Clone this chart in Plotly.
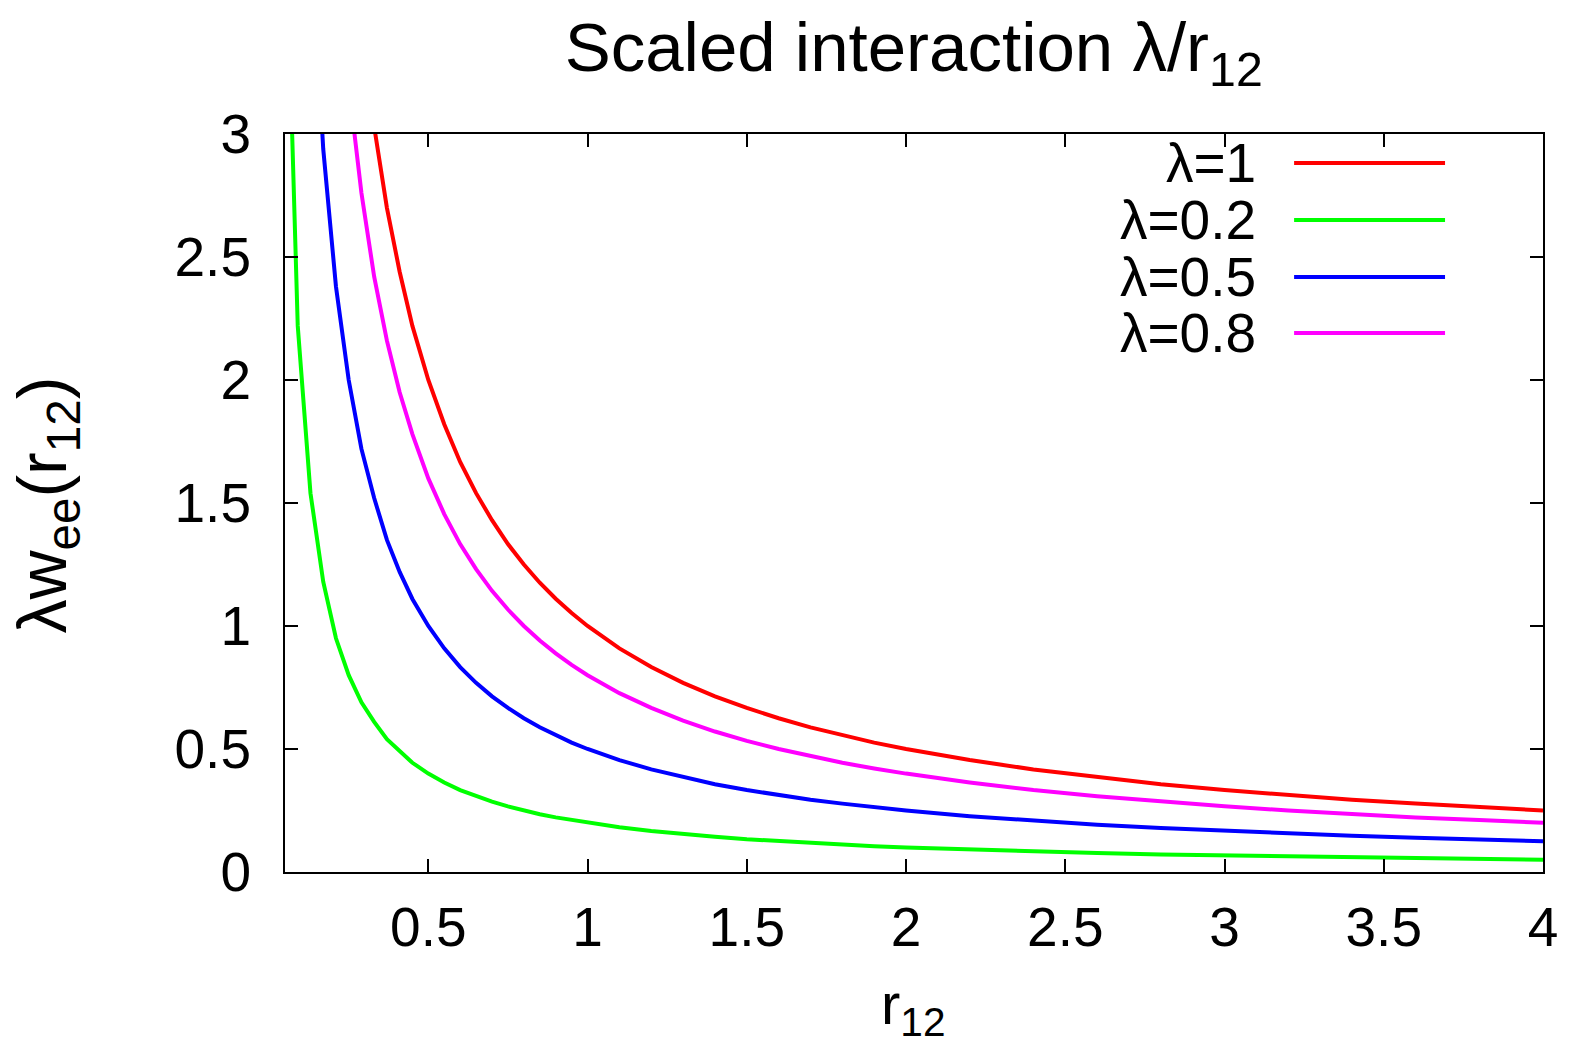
import plotly.graph_objects as go

# Sampled separations r12 and the scaled interaction for each coupling strength
r12 = [0.05, 0.09, 0.13, 0.17, 0.21, 0.25, 0.29, 0.33, 0.37, 0.41, 0.45,
       0.50, 0.55, 0.60, 0.65, 0.70, 0.75, 0.80, 0.85, 0.90, 0.95, 1.00,
       1.10, 1.20, 1.30, 1.40, 1.50, 1.60, 1.70, 1.80, 1.90, 2.00,
       2.20, 2.40, 2.60, 2.80, 3.00, 3.20, 3.40, 3.60, 3.80, 4.00]

w_lam_1_0 = [20.0, 11.11, 7.69, 5.88, 4.76, 4.00, 3.45, 3.03, 2.70, 2.44, 2.22,
             2.00, 1.82, 1.667, 1.54, 1.43, 1.333, 1.25, 1.176, 1.111, 1.053, 1.00,
             0.909, 0.833, 0.769, 0.714, 0.667, 0.625, 0.588, 0.556, 0.526, 0.50,
             0.455, 0.417, 0.385, 0.357, 0.333, 0.3125, 0.294, 0.278, 0.263, 0.25]
w_lam_0_2 = [4.00, 2.22, 1.54, 1.18, 0.95, 0.80, 0.69, 0.61, 0.54, 0.49, 0.444,
             0.40, 0.364, 0.333, 0.308, 0.286, 0.267, 0.25, 0.235, 0.222, 0.211, 0.20,
             0.182, 0.167, 0.154, 0.143, 0.133, 0.125, 0.118, 0.111, 0.105, 0.10,
             0.091, 0.083, 0.077, 0.071, 0.067, 0.0625, 0.059, 0.056, 0.053, 0.05]
w_lam_0_5 = [10.0, 5.56, 3.85, 2.94, 2.38, 2.00, 1.72, 1.52, 1.35, 1.22, 1.11,
             1.00, 0.909, 0.833, 0.769, 0.714, 0.667, 0.625, 0.588, 0.556, 0.526, 0.50,
             0.455, 0.417, 0.385, 0.357, 0.333, 0.3125, 0.294, 0.278, 0.263, 0.25,
             0.227, 0.208, 0.192, 0.179, 0.167, 0.156, 0.147, 0.139, 0.132, 0.125]
w_lam_0_8 = [16.0, 8.89, 6.15, 4.71, 3.81, 3.20, 2.76, 2.42, 2.16, 1.95, 1.78,
             1.60, 1.455, 1.333, 1.231, 1.143, 1.067, 1.00, 0.941, 0.889, 0.842, 0.80,
             0.727, 0.667, 0.615, 0.571, 0.533, 0.50, 0.471, 0.444, 0.421, 0.40,
             0.364, 0.333, 0.308, 0.286, 0.267, 0.25, 0.235, 0.222, 0.211, 0.20]

series_names = ["λ=1", "λ=0.2", "λ=0.5", "λ=0.8"]
series_values = [w_lam_1_0, w_lam_0_2, w_lam_0_5, w_lam_0_8]
series_colors = ["#ff0000", "#00ff00", "#0000ff", "#ff00ff"]

x_ticks = [0.5, 1, 1.5, 2, 2.5, 3, 3.5, 4]
x_tick_labels = ["0.5", "1", "1.5", "2", "2.5", "3", "3.5", "4"]
y_ticks = [0, 0.5, 1, 1.5, 2, 2.5, 3]
y_tick_labels = ["0", "0.5", "1", "1.5", "2", "2.5", "3"]

W, H = 1569, 1049
L, R, T, B = 284.5, 26, 134, 177
plot_w = W - L - R
plot_h = H - T - B

FONT = "Liberation Sans, Arial, Helvetica, sans-serif"

fig = go.Figure()
for name, vals, col in zip(series_names, series_values, series_colors):
    fig.add_trace(go.Scatter(x=r12, y=vals, mode="lines", name=name,
                             line=dict(color=col, width=4), showlegend=False))

# Key in the upper right: label right-aligned, then a sample line
def px_to_paper(px, py):
    return (px - L) / plot_w, (H - B - py) / plot_h

key_rows = [163, 220, 277, 333]
for name, col, py in zip(series_names, series_colors, key_rows):
    tx, ty = px_to_paper(1258, py)
    fig.add_annotation(x=tx, y=ty, xref="paper", yref="paper", text=name,
                       showarrow=False, xanchor="right", yanchor="middle",
                       font=dict(family=FONT, size=55, color="black"))
    x0, y0 = px_to_paper(1294, py)
    x1, _ = px_to_paper(1445, py)
    fig.add_shape(type="line", xref="paper", yref="paper", x0=x0, x1=x1, y0=y0, y1=y0,
                  line=dict(color=col, width=4))

# Axis titles
ax, ay = px_to_paper(913, 1008)
fig.add_annotation(x=ax, y=ay, xref="paper", yref="paper", text="r<sub>12</sub>",
                   showarrow=False, xanchor="center", yanchor="middle",
                   font=dict(family=FONT, size=58, color="black"))
yx, yy = px_to_paper(46, 505)
fig.add_annotation(x=yx, y=yy, xref="paper", yref="paper",
                   text="λw<sub>ee</sub>(r<sub>12</sub>)", textangle=-90,
                   showarrow=False, xanchor="center", yanchor="middle",
                   font=dict(family=FONT, size=68, color="black"))

axis_common = dict(showline=True, linecolor="black", linewidth=2, mirror="ticks",
                   ticks="inside", ticklen=13, tickwidth=2, tickcolor="black",
                   showgrid=False, zeroline=False,
                   tickfont=dict(family=FONT, size=55, color="black"))

fig.update_layout(
    width=W, height=H,
    margin=dict(l=L, r=R, t=T, b=B),
    paper_bgcolor="white", plot_bgcolor="white",
    title=dict(text="Scaled interaction λ/r<sub>12</sub>", x=(L + plot_w / 2) / W,
               xanchor="center", y=1 - 47 / H, yanchor="middle", yref="container",
               font=dict(family=FONT, size=69, color="black")),
    xaxis=dict(range=[0.05, 4], tickvals=x_ticks, ticktext=x_tick_labels,
               ticklabelstandoff=6, **axis_common),
    yaxis=dict(range=[0, 3], tickvals=y_ticks, ticktext=y_tick_labels,
               ticklabelstandoff=21, **axis_common),
)

fig.write_html("out.html")
